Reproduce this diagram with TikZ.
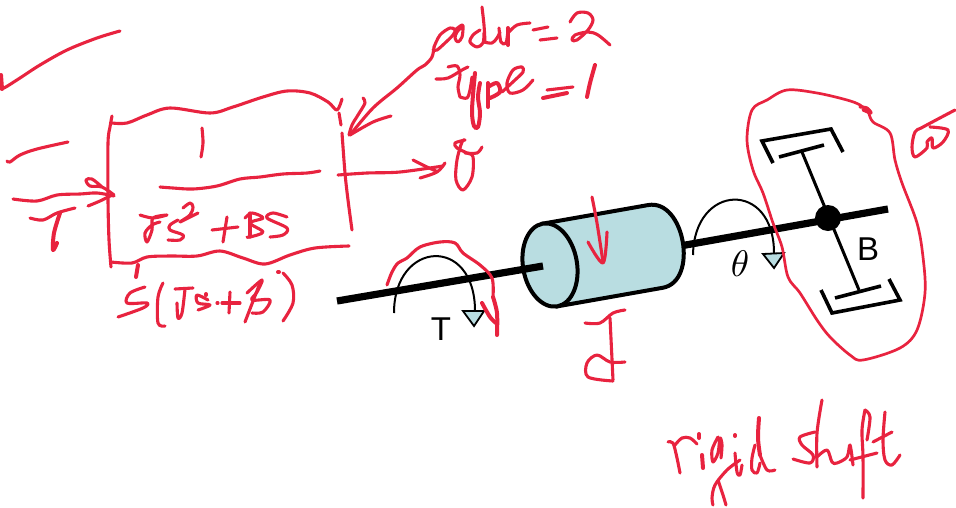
\documentclass[tikz,border=0pt]{standalone}
\usepackage{fontspec}
\setmainfont{Liberation Sans}
\definecolor{ink}{HTML}{E8233F}
\definecolor{cyl}{HTML}{B9DDE1}
\tikzset{
  inkstroke/.style={draw=ink,line width=3.1pt,line cap=round,line join=round},
  inkthick/.style={draw=ink,line width=4pt,line cap=round,line join=round},
  shaftline/.style={draw=black,line width=7.2pt},
  barline/.style={draw=black,line width=3pt},
  bracket/.style={draw=black,line width=3.6pt,line join=miter},
  cylline/.style={draw=black,line width=4pt,fill=cyl},
  arcline/.style={draw=black,line width=2pt},
  tipshape/.style={draw=black,line width=1.8pt,fill=cyl,line join=miter},
  bigtext/.style={font=\fontsize{33}{35}\selectfont,inner sep=0pt,text=black}
}
\newcommand{\ink}[1]{\draw[inkstroke] plot[smooth,tension=.55] coordinates {#1};}
\newcommand{\inkb}[1]{\draw[inkthick] plot[smooth,tension=.55] coordinates {#1};}
\begin{document}
\begin{tikzpicture}[x=1pt,y=-1pt]
\useasboundingbox (0,0) rectangle (956,507);
% right shaft
\draw[shaftline] (680,246) -- (888,209);
% cylinder
\begin{scope}[shift={(550,265)},rotate=10]
 \draw[cylline] (0,-42) -- (107,-42) .. controls (144,-42) and (144,42) .. (107,42) -- (0,42) -- cycle;
 \draw[cylline] (0,0) ellipse [x radius=27,y radius=42];
\end{scope}
\draw[shaftline] (337,301) -- (543,266);
% damper
\draw[barline] (802,152) -- (859,290);
\fill[black] (828,218) circle (13);
\draw[bracket] (773,163) -- (762,141) -- (831,129) -- (843,152);
\draw[bracket] (779,157) -- (824,145);
\draw[bracket] (821,290) -- (832,313) -- (900,300) -- (889,279);
\draw[bracket] (835,298) -- (881,286);
% torque arcs
\draw[arcline] (394,313) .. controls (394,240) and (475,235) .. (475,311);
\draw[tipshape] (463,311) -- (484,311) -- (474,326) -- cycle;
\draw[arcline] (693,255) .. controls (694,183) and (774,180) .. (774,253);
\draw[tipshape] (763,254) -- (784,253) -- (774,268) -- cycle;
\node[bigtext] (lblT) at (441,329) {T};
\node[bigtext] (lblB) at (868,249) {B};
\node[inner sep=0pt,scale=3.7] (lbltheta) at (740,264) {$\theta$};
% ink: top-left
\inkb{(1,75)(2,89)}
\ink{(0,88)(4,88)(20,78)(40,65)(67,50)(97,38)(120,31)}
\ink{(7,161)(10,162)(20,155)(37,149)(68,142)}
% box
\ink{(112,116)(110,127)(108,143)(108,200)(109,240)(111,267)}
\ink{(112,123)(127,123)(147,115)(170,108)(210,113)(233,107)(263,97)(287,91)(310,93)(328,102)(337,110)(342,99)}
\ink{(339,113)(341,125)}
\ink{(342,133)(345,173)(348,200)(352,230)}
\ink{(111,262)(132,263)(147,257)(170,256)(197,256)(220,251)(243,258)(265,264)(290,255)(315,248)(349,246)}
\ink{(202,128)(203,143)(201,157)}
\ink{(160,187)(173,188)(193,189)(217,186)(240,179)(260,177)(283,174)(307,173)(320,171)}
% input arrow and T
\ink{(13,199)(37,201)(57,195)(80,194)(97,193)(114,196)}
\ink{(102,187)(92,179)(86,180)(90,186)(102,187)(114,195)}
\ink{(88,206)(100,201)(112,195)}
\ink{(30,218)(43,220)(57,213)(75,208)}
\inkb{(60,213)(54,233)(53,250)(57,243)}
% Js^2+BS
\ink{(140,215)(153,218)(167,215)(153,218)(152,230)(147,242)(145,233)(152,225)(160,222)}
\ink{(178,220)(170,225)(170,230)(183,235)(180,240)(168,240)}
\ink{(183,208)(190,203)(193,207)(190,215)(180,222)(198,213)}
\ink{(212,230)(238,227)}
\ink{(227,217)(223,242)}
\ink{(245,218)(252,213)(263,218)(250,223)(263,232)(250,237)(247,237)}
\ink{(250,213)(250,237)}
\ink{(287,217)(273,213)(267,218)(287,228)(283,235)(270,237)}
% s(Js+B)
\inkb{(138,265)(136,277)}
\ink{(145,287)(130,293)(127,303)(147,303)(143,308)(118,317)}
\ink{(163,283)(158,297)(158,323)(165,326)}
\ink{(175,289)(193,288)}
\ink{(185,289)(182,313)(178,318)(177,303)}
\ink{(208,300)(197,295)(198,303)(210,305)(198,310)}
\inkb{(206,294)(206,295)}
\ink{(217,303)(218,303)}
\ink{(222,303)(240,303)}
\ink{(230,292)(229,313)}
\ink{(247,293)(262,280)(257,292)(252,300)(270,300)(263,312)(252,313)}
\ink{(260,283)(245,322)}
\inkb{(278,272)(279,272)}
\ink{(283,273)(292,285)(293,303)(283,321)}
% output arrow and theta
\ink{(338,175)(367,173)(400,172)(443,166)}
\ink{(413,160)(427,167)(436,171)}
\ink{(420,178)(437,172)(445,163)}
\ink{(465,140)(455,143)(457,148)(467,153)(473,157)(472,177)(463,190)(456,180)(457,160)(462,142)(465,140)}
\ink{(465,153)(477,153)(482,147)}
% order arrow
\ink{(434,47)(432,57)(425,65)(417,70)(397,88)(373,108)(350,135)}
\ink{(363,98)(365,103)(358,115)(352,125)(349,135)}
\ink{(391,116)(373,122)(350,135)}
% order=2
\ink{(434,47)(440,35)(450,28)(455,30)(453,35)(445,43)(437,50)(433,50)}
\ink{(455,30)(462,25)(463,28)(462,37)(458,42)(455,38)(457,32)(462,27)}
\ink{(482,7)(484,25)(485,42)}
\ink{(480,30)(473,35)(470,42)(477,47)(483,43)(484,33)}
\ink{(484,42)(492,43)(497,38)(500,32)}
\ink{(499,28)(501,42)(506,43)(508,30)}
\inkb{(508,28)(508,45)}
\ink{(508,33)(517,25)(530,23)}
\ink{(533,30)(548,27)}
\ink{(540,40)(557,38)}
\ink{(570,22)(577,13)(588,13)(593,20)(588,30)(577,40)(572,40)(575,35)(588,32)(598,35)(610,45)}
% type=1
\ink{(436,79)(448,78)(462,70)(468,67)}
\ink{(448,67)(457,66)(460,75)(458,87)(460,97)}
\ink{(460,97)(467,98)(470,90)(472,77)}
\inkb{(475,73)(472,110)(474,126)(478,127)(480,113)(478,97)(480,83)}
\inkb{(488,83)(488,107)}
\inkb{(488,87)(497,83)(500,92)(490,98)}
\ink{(502,92)(515,80)(523,72)(522,67)(513,70)(507,83)(510,93)(523,90)(533,80)}
\ink{(547,90)(573,87)}
\inkb{(543,98)(567,93)}
\inkb{(595,65)(590,83)(587,97)}
% left ink arc
\ink{(387,285)(392,272)(398,263)(407,258)(420,247)(440,242)(455,243)(463,253)(480,265)(492,278)(493,297)}
\inkb{(493,297)(497,313)(497,335)}
\inkb{(482,303)(490,317)(496,323)}
% cylinder arrow
\ink{(592,197)(597,223)(603,262)}
\ink{(588,242)(603,263)(607,232)}
% J
\ink{(585,323)(600,323)(613,313)(625,310)}
\ink{(610,318)(613,380)}
\ink{(625,362)(610,362)(597,355)(587,363)(588,377)(613,381)}
% blob
\draw[draw=ink,line width=2.7pt,line join=round] plot[smooth cycle,tension=.55] coordinates {(787,90)(817,93)(847,100)(860,105)(868,112)(873,122)(890,133)(895,160)(902,183)(917,223)(923,257)(925,293)(917,330)(900,348)(863,360)(850,355)(830,337)(817,320)(800,293)(788,277)(782,247)(773,223)(763,193)(753,170)(747,140)(752,110)(767,100)};
\ink{(860,107)(867,108)(871,113)(863,110)}
% omega-like
\ink{(955,110)(923,127)(915,132)(912,147)(915,157)(927,148)(927,142)(932,138)(933,148)(943,142)(948,130)(930,127)}
% rigid shaft
\ink{(668,442)(673,443)(677,458)(680,473)}
\ink{(675,445)(682,438)(690,438)(697,444)}
\inkb{(702,455)(703,468)}
\inkb{(699,434)(699,438)}
\ink{(718,437)(712,450)(713,462)(718,453)(720,438)(722,445)(721,458)}
\ink{(740,460)(727,470)(715,485)(712,498)(713,505)}
\ink{(718,480)(723,495)(726,505)}
\ink{(735,453)(737,472)(740,475)(742,465)}
\inkb{(735,435)(735,436)}
\inkb{(759,418)(758,438)(760,455)}
\ink{(760,455)(767,470)(775,470)}
\ink{(755,445)(752,458)(752,470)(757,473)(760,463)}
\ink{(815,432)(800,437)(802,445)(813,455)(810,463)(793,459)}
\ink{(822,400)(817,433)(817,467)}
\ink{(817,457)(827,450)(832,462)(837,463)(847,457)(850,445)(853,465)}
\ink{(865,410)(862,430)(863,457)(863,498)}
\ink{(865,410)(870,417)(867,440)}
\ink{(850,460)(877,453)}
\ink{(885,412)(883,440)(885,460)(892,465)(900,455)}
\ink{(873,442)(892,432)}
\end{tikzpicture}
\end{document}
